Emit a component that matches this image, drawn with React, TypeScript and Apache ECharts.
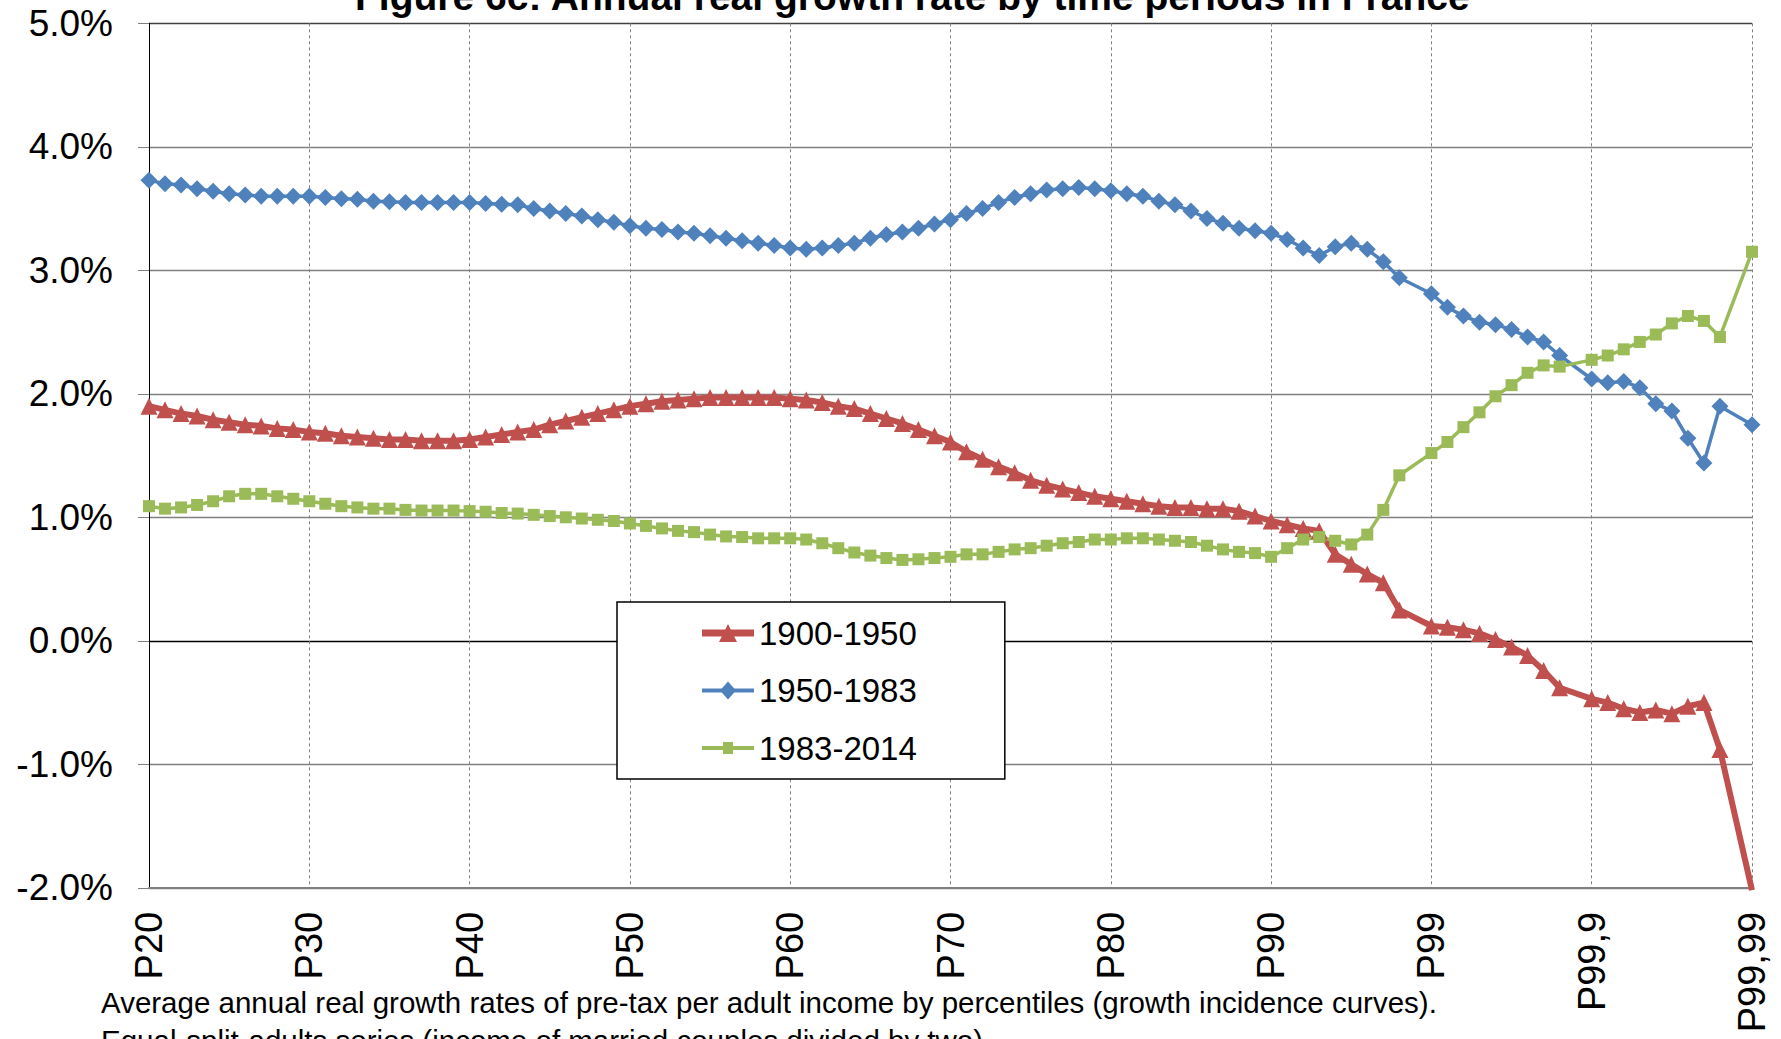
import React, { useEffect, useRef } from "react";
import * as echarts from "echarts";

const FONT = "'Liberation Sans', Arial, Helvetica, sans-serif";

const categories = [
  "P20", "P21", "P22", "P23", "P24", "P25", "P26", "P27", "P28", "P29",
  "P30", "P31", "P32", "P33", "P34", "P35", "P36", "P37", "P38", "P39",
  "P40", "P41", "P42", "P43", "P44", "P45", "P46", "P47", "P48", "P49",
  "P50", "P51", "P52", "P53", "P54", "P55", "P56", "P57", "P58", "P59",
  "P60", "P61", "P62", "P63", "P64", "P65", "P66", "P67", "P68", "P69",
  "P70", "P71", "P72", "P73", "P74", "P75", "P76", "P77", "P78", "P79",
  "P80", "P81", "P82", "P83", "P84", "P85", "P86", "P87", "P88", "P89",
  "P90", "P91", "P92", "P93", "P94", "P95", "P96", "P97", "P98", "",
  "P99", "P99,1", "P99,2", "P99,3", "P99,4", "P99,5", "P99,6", "P99,7", "P99,8", "",
  "P99,9", "P99,91", "P99,92", "P99,93", "P99,94", "P99,95", "P99,96", "P99,97", "P99,98", "",
  "P99,99",
];

const seriesNames = ["1900-1950", "1950-1983", "1983-2014"];

const growth1900_1950 = [
  1.90, 1.87, 1.84, 1.82, 1.79, 1.77, 1.75, 1.74, 1.72, 1.71,
  1.69, 1.68, 1.66, 1.65, 1.64, 1.63, 1.63, 1.62, 1.62, 1.62,
  1.63, 1.65, 1.67, 1.69, 1.71, 1.75, 1.78, 1.81, 1.84, 1.87,
  1.90, 1.92, 1.94, 1.95, 1.96, 1.97, 1.97, 1.97, 1.97, 1.97,
  1.96, 1.95, 1.93, 1.90, 1.88, 1.84, 1.80, 1.76, 1.71, 1.66,
  1.61, 1.53, 1.47, 1.41, 1.36, 1.30, 1.26, 1.23, 1.20, 1.17,
  1.15, 1.13, 1.11, 1.09, 1.08, 1.08, 1.07, 1.07, 1.05, 1.01,
  0.97, 0.94, 0.91, 0.89, 0.70, 0.62, 0.54, 0.47, 0.25, null,
  0.12, 0.11, 0.09, 0.06, 0.01, -0.05, -0.12, -0.24, -0.38, null,
  -0.47, -0.50, -0.55, -0.58, -0.56, -0.59, -0.53, -0.50, -0.88, null,
  -2.02,
];

const growth1950_1983 = [
  3.73, 3.70, 3.69, 3.66, 3.64, 3.62, 3.61, 3.60, 3.60, 3.60,
  3.60, 3.59, 3.58, 3.575, 3.56, 3.555, 3.55, 3.55, 3.55, 3.55,
  3.55, 3.54, 3.535, 3.53, 3.50, 3.48, 3.46, 3.44, 3.41, 3.39,
  3.36, 3.34, 3.33, 3.31, 3.30, 3.28, 3.26, 3.24, 3.22, 3.20,
  3.18, 3.17, 3.18, 3.20, 3.22, 3.26, 3.29, 3.31, 3.34, 3.375,
  3.41, 3.46, 3.50, 3.55, 3.59, 3.62, 3.65, 3.66, 3.67, 3.66,
  3.645, 3.62, 3.60, 3.56, 3.53, 3.48, 3.42, 3.38, 3.34, 3.32,
  3.30, 3.25, 3.18, 3.12, 3.19, 3.22, 3.17, 3.07, 2.94, null,
  2.81, 2.70, 2.63, 2.58, 2.56, 2.52, 2.46, 2.42, 2.31, null,
  2.12, 2.09, 2.10, 2.05, 1.92, 1.86, 1.64, 1.44, 1.90, null,
  1.75,
];

const growth1983_2014 = [
  1.09, 1.07, 1.08, 1.10, 1.13, 1.17, 1.19, 1.19, 1.17, 1.15,
  1.13, 1.11, 1.09, 1.08, 1.07, 1.07, 1.06, 1.055, 1.055, 1.055,
  1.05, 1.045, 1.035, 1.03, 1.02, 1.01, 1.00, 0.99, 0.98, 0.97,
  0.95, 0.93, 0.91, 0.89, 0.88, 0.86, 0.845, 0.84, 0.83, 0.83,
  0.83, 0.82, 0.79, 0.75, 0.715, 0.69, 0.67, 0.655, 0.66, 0.67,
  0.68, 0.70, 0.70, 0.72, 0.74, 0.75, 0.77, 0.79, 0.80, 0.82,
  0.82, 0.83, 0.83, 0.82, 0.81, 0.80, 0.77, 0.74, 0.72, 0.71,
  0.68, 0.75, 0.82, 0.84, 0.81, 0.78, 0.86, 1.06, 1.34, null,
  1.52, 1.61, 1.73, 1.85, 1.98, 2.07, 2.17, 2.23, 2.22, null,
  2.275, 2.31, 2.36, 2.42, 2.48, 2.57, 2.63, 2.59, 2.46, null,
  3.15,
];

const titleText = "Figure 6c: Annual real growth rate by time periods in France";
const noteLines = [
  "Average annual real growth rates of pre-tax per adult income by percentiles (growth incidence curves).",
  "Equal-split-adults series (income of married couples divided by two).",
];

const COLORS = ["#C0504D", "#4F81BD", "#9BBB59"];

// legend icons (line + marker), drawn in a 52 x 18 box
const LEGEND_ICONS = [
  "path://M0,5.5L52,5.5L52,12.5L0,12.5Z M26,0L35,18L17,18Z",
  "path://M0,7L52,7L52,11L0,11Z M26,0L34,9L26,18L18,9Z",
  "path://M0,7L52,7L52,11L0,11Z M21,3L31,3L31,15L21,15Z M0,0L0.01,0L0,0.01Z M0,18L0.01,18L0,17.99Z",
];

export default function App() {
  const ref = useRef<HTMLDivElement>(null);

  useEffect(() => {
    if (!ref.current) return;
    const chart = echarts.init(ref.current, undefined, { renderer: "svg" });
    const option: any = {
      animation: false,
      backgroundColor: "#ffffff",
      textStyle: { fontFamily: FONT },
      grid: { left: 149, right: 29, top: 23.3, bottom: 151.2, containLabel: false },
      legend: {
        orient: "vertical",
        left: 617,
        top: 602,
        data: seriesNames.map((n, i) => ({ name: n, icon: LEGEND_ICONS[i] })),
        backgroundColor: "#ffffff",
        borderColor: "#000000",
        borderWidth: 1.5,
        borderRadius: 0,
        padding: [12, 88, 12, 85],
        itemWidth: 52,
        itemHeight: 18,
        itemGap: 19.5,
        symbolKeepAspect: false,
        textStyle: { fontSize: 33, lineHeight: 38, color: "#000", fontFamily: FONT },
      },
      xAxis: {
        type: "category",
        data: categories,
        boundaryGap: false,
        axisLine: { onZero: false, lineStyle: { color: "#808080", width: 2 } },
        axisTick: { show: false, interval: 9 },
        axisLabel: {
          interval: 9,
          rotate: 90,
          margin: 24,
          fontSize: 38,
          color: "#000",
          fontFamily: FONT,
        },
        splitLine: {
          show: true,
          interval: 9,
          lineStyle: { color: "#808080", width: 1, type: [3, 3] },
        },
      },
      yAxis: {
        type: "value",
        min: -2,
        max: 5,
        interval: 1,
        axisLine: { show: true, lineStyle: { color: "#000", width: 1 } },
        axisTick: { show: true, length: 11, lineStyle: { color: "#808080" } },
        axisLabel: {
          formatter: (v: number) => v.toFixed(1) + "%",
          fontSize: 37,
          margin: 36,
          color: "#000",
          fontFamily: FONT,
        },
        splitLine: {
          show: true,
          lineStyle: {
            color: ["#808080", "#808080", "#000000", "#808080", "#808080", "#808080", "#808080", "#404040"],
            width: 1.3,
          },
        },
      },
      series: [
        {
          name: seriesNames[0],
          type: "line",
          data: growth1900_1950,
          connectNulls: true,
          clip: true,
          symbol: "triangle",
          symbolSize: 17,
          showAllSymbol: true,
          lineStyle: { color: COLORS[0], width: 6 },
          itemStyle: { color: COLORS[0] },
        },
        {
          name: seriesNames[1],
          type: "line",
          data: growth1950_1983,
          connectNulls: true,
          clip: true,
          symbol: "diamond",
          symbolSize: 17,
          showAllSymbol: true,
          lineStyle: { color: COLORS[1], width: 3.5 },
          itemStyle: { color: COLORS[1] },
        },
        {
          name: seriesNames[2],
          type: "line",
          data: growth1983_2014,
          connectNulls: true,
          clip: true,
          symbol: "rect",
          symbolSize: 12,
          showAllSymbol: true,
          lineStyle: { color: COLORS[2], width: 3.5 },
          itemStyle: { color: COLORS[2] },
        },
      ],
      graphic: [
        {
          type: "text",
          left: 355,
          top: -23,
          style: {
            text: titleText,
            fontFamily: FONT,
            fontSize: 39,
            fontWeight: "bold",
            fill: "#000",
          },
          z: 100,
        },
        {
          type: "text",
          x: 101,
          y: 1002,
          style: {
            text: noteLines[0],
            fontFamily: FONT,
            fontSize: 29.5,
            fill: "#000",
            verticalAlign: "middle",
          },
        },
        {
          type: "text",
          x: 101,
          y: 1040,
          style: {
            text: noteLines[1],
            fontFamily: FONT,
            fontSize: 29.5,
            fill: "#000",
            verticalAlign: "middle",
          },
        },
      ],
    };
    chart.setOption(option);
    return () => chart.dispose();
  }, []);

  return (
    <div
      ref={ref}
      style={{ position: "fixed", left: 0, top: 0, width: 1781, height: 1039, background: "#fff" }}
    />
  );
}
